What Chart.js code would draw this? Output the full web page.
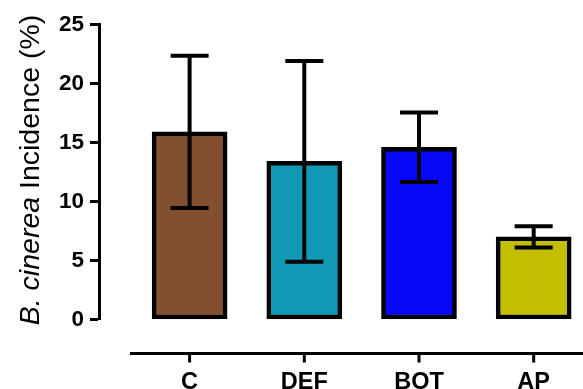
<!DOCTYPE html>
<html>
<head>
<meta charset="utf-8">
<script src="https://cdn.jsdelivr.net/npm/chart.js@4/dist/chart.umd.min.js"></script>
<style>
  html, body { margin: 0; padding: 0; background: #fff; }
  #wrap { width: 583px; height: 389px; }
</style>
</head>
<body>
<div id="wrap"><canvas id="chart" width="583" height="389"></canvas></div>
<script>
// Treatments and mean B. cinerea incidence (%) with standard deviation
const categories = ['C', 'DEF', 'BOT', 'AP'];
const incidence = [15.9, 13.4, 14.6, 7.0];
const sd = [6.45, 8.5, 2.95, 0.9];
const barColors = ['#82502f', '#1198b4', '#0808f8', '#c3bf00'];
const yTickStep = 5;
const yMax = 25;

const FONT = '"Liberation Sans", Arial, Helvetica, sans-serif';

// Mean ± SD whiskers with caps, drawn over each bar
const errorBars = {
  id: 'errorBars',
  afterDatasetsDraw(chart) {
    const ctx = chart.ctx;
    const ys = chart.scales.y;
    const meta = chart.getDatasetMeta(0);
    ctx.save();
    ctx.strokeStyle = '#000';
    ctx.lineWidth = 4;
    meta.data.forEach((bar, i) => {
      const x = bar.x;
      const hi = ys.getPixelForValue(incidence[i] + sd[i]);
      const lo = ys.getPixelForValue(incidence[i] - sd[i]);
      const half = 19;
      ctx.beginPath();
      ctx.moveTo(x, hi);
      ctx.lineTo(x, lo);
      ctx.moveTo(x - half, hi);
      ctx.lineTo(x + half, hi);
      ctx.moveTo(x - half, lo);
      ctx.lineTo(x + half, lo);
      ctx.stroke();
    });
    ctx.restore();
  }
};

// Detached category axis line with tick marks below the plot
const baseAxis = {
  id: 'baseAxis',
  afterDraw(chart) {
    const ctx = chart.ctx;
    const xs = chart.scales.x;
    const yLine = chart.chartArea.bottom + 34;
    ctx.save();
    ctx.strokeStyle = '#000';
    ctx.lineWidth = 3;
    ctx.beginPath();
    ctx.moveTo(xs.getPixelForValue(-0.52), yLine);
    ctx.lineTo(chart.width, yLine);
    categories.forEach((c, i) => {
      const px = xs.getPixelForValue(i);
      ctx.moveTo(px, yLine);
      ctx.lineTo(px, yLine + 9);
    });
    ctx.stroke();
    ctx.restore();
  }
};

// Y-axis title with the italic species name
const yTitle = {
  id: 'yTitle',
  afterDraw(chart) {
    const ctx = chart.ctx;
    const partA = 'B. cinerea';
    const partB = ' Incidence (%)';
    const fA = 'italic 28.5px ' + FONT;
    const fB = '28.5px ' + FONT;
    ctx.save();
    ctx.translate(39, 170);
    ctx.rotate(-Math.PI / 2);
    ctx.fillStyle = '#000';
    ctx.textBaseline = 'alphabetic';
    ctx.textAlign = 'left';
    ctx.font = fA;
    const wA = ctx.measureText(partA).width;
    ctx.font = fB;
    const wB = ctx.measureText(partB).width;
    const sx = -(wA + wB) / 2;
    ctx.font = fA;
    ctx.fillText(partA, sx, 0);
    ctx.font = fB;
    ctx.fillText(partB, sx + wA, 0);
    ctx.restore();
  }
};

new Chart(document.getElementById('chart'), {
  type: 'bar',
  data: {
    datasets: [{
      data: categories.map((c, i) => ({ x: i, y: incidence[i] })),
      backgroundColor: barColors,
      borderColor: '#000',
      borderWidth: 4.5,
      borderSkipped: false,
      barThickness: 75
    }]
  },
  options: {
    responsive: false,
    animation: false,
    devicePixelRatio: 1,
    layout: { padding: { top: 24.5, right: 0, left: 0, bottom: 0 } },
    plugins: { legend: { display: false }, tooltip: { enabled: false } },
    scales: {
      x: {
        type: 'linear',
        min: -0.79,
        max: 3.43,
        offset: false,
        grid: { display: false, drawTicks: true, tickLength: 44 },
        border: { display: false },
        ticks: {
          stepSize: 1,
          includeBounds: false,
          autoSkip: false,
          maxRotation: 0,
          padding: 5,
          color: '#000',
          font: { family: FONT, size: 23.5, weight: 'bold' },
          callback: (v) => (Number.isInteger(v) && categories[v] !== undefined ? categories[v] : '')
        },
        afterFit(s) { s.height = 69.5; }
      },
      y: {
        min: 0,
        max: yMax,
        grid: { drawOnChartArea: false, tickLength: 9, tickWidth: 3, color: '#000' },
        border: { display: true, width: 3, color: '#000' },
        ticks: {
          stepSize: yTickStep,
          padding: 6,
          color: '#000',
          font: { family: FONT, size: 22.5, weight: 'bold' }
        },
        afterFit(s) { s.width = 99; }
      }
    }
  },
  plugins: [errorBars, baseAxis, yTitle]
});
</script>
</body>
</html>
